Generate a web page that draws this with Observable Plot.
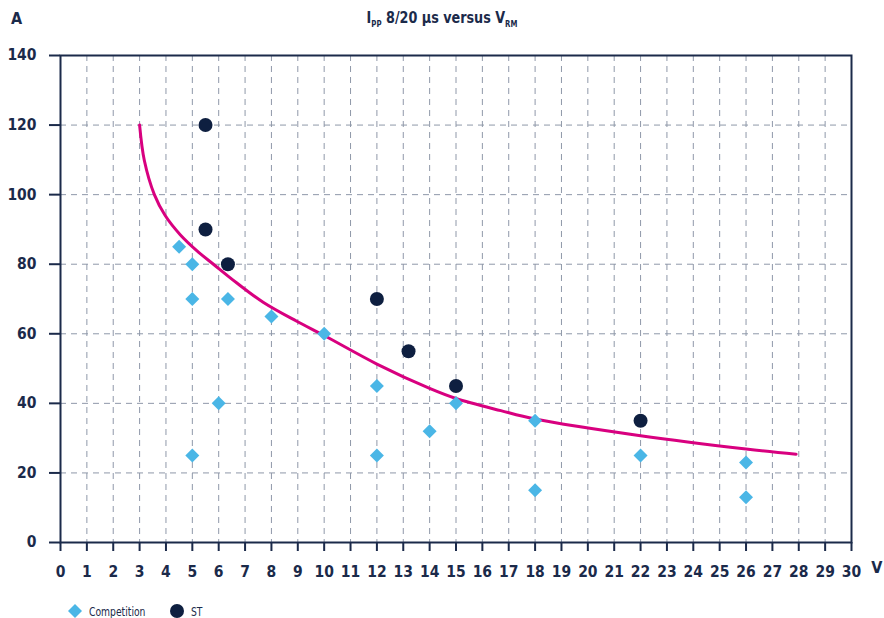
<!DOCTYPE html>
<html>
<head>
<meta charset="utf-8">
<script src="https://cdn.jsdelivr.net/npm/d3@7"></script>
<script src="https://cdn.jsdelivr.net/npm/@observablehq/plot@0.6"></script>
<style>
  body { margin: 0; background: #fff; }
  #wrap { position: relative; width: 884px; height: 618px; color: #1b2a4a; font-family: "DejaVu Sans Condensed", "DejaVu Sans", sans-serif; }
  #header { position: relative; height: 36px; }
  #unitA { position: absolute; left: 11px; top: 9px; font-size: 16px; font-weight: bold; }
  #title { position: absolute; left: 0; right: 0; top: 8px; text-align: center; font-size: 16.5px; font-weight: bold; transform: scaleX(0.86); transform-origin: 442px 50%; }
  #title sub { font-size: 9px; vertical-align: -4px; line-height: 0; }
  #chart svg { display: block; }
  #legend { position: relative; height: 22px; font-size: 12.5px; }
  .item { position: absolute; top: 7px; display: flex; align-items: center; gap: 6px; }
  .item span { display: inline-block; transform: scaleX(0.82); transform-origin: 0 50%; }
</style>
</head>
<body>
<div id="wrap">
  <div id="header">
    <span id="unitA">A</span>
    <div id="title">I<sub>PP</sub> 8/20 µs versus V<sub>RM</sub></div>
  </div>
  <div id="chart"></div>
  <div id="legend">
    <div class="item" style="left:67px"><svg width="16" height="16"><path d="M8 1 L15 8 L8 15 L1 8 Z" fill="#4ab6e6"/></svg><span>Competition</span></div>
    <div class="item" style="left:169px"><svg width="16" height="16"><circle cx="8" cy="8" r="7" fill="#0e1f40"/></svg><span>ST</span></div>
  </div>
</div>
<script>
// Tick values
const xTicks = d3.range(0, 31, 1);
const yTicks = [0, 20, 40, 60, 80, 100, 120, 140];

// Competition devices (V_RM in V, I_PP in A)
const compV = [4.5, 5, 5, 5, 6, 6.35, 8, 10, 12, 12, 14, 15, 18, 18, 22, 26, 26];
const compI = [85, 80, 70, 25, 40, 70, 65, 60, 45, 25, 32, 40, 35, 15, 25, 23, 13];

// ST devices
const stV = [5.5, 5.5, 6.35, 12, 13.2, 15, 22];
const stI = [120, 90, 80, 70, 55, 45, 35];

// Trend curve
const curveV = [3, 3.18, 3.56, 3.97, 4.54, 5.23, 5.8, 6.69, 7.7, 8.96, 10, 12, 14, 15, 16.7, 18, 22, 26, 27.9];
const curveI = [120, 109.8, 100, 94, 88.5, 83.5, 80, 74.6, 69, 63.6, 59.5, 51.3, 44.3, 41.4, 37.9, 35.5, 30.7, 26.9, 25.4];

const comp = compV.map((v, i) => ({v, i: compI[i]}));
const st = stV.map((v, i) => ({v, i: stI[i]}));
const curve = curveV.map((v, i) => ({v, i: curveI[i]}));

const navy = "#1b2a4a";
const gridColor = "#8f98a9";
const font = "'DejaVu Sans Condensed', 'DejaVu Sans', sans-serif";

const chart = Plot.plot({
  width: 884,
  height: 560,
  marginTop: 19,
  marginBottom: 54,
  marginLeft: 60,
  marginRight: 33,
  x: {domain: [0, 30]},
  y: {domain: [0, 140]},
  style: {fontFamily: font, fontSize: "15.5px", fontWeight: "bold", color: navy, background: "white"},
  marks: [
    Plot.gridX(xTicks, {stroke: gridColor, strokeOpacity: 1, strokeWidth: 1, strokeDasharray: "6,5"}),
    Plot.gridY(yTicks, {stroke: gridColor, strokeOpacity: 1, strokeWidth: 1, strokeDasharray: "6,5"}),
    Plot.frame({stroke: navy, strokeWidth: 2}),
    Plot.axisX(xTicks, {tickSize: 9, tickPadding: 14, strokeWidth: 2, label: null}),
    Plot.axisY(yTicks, {tickSize: 11, tickPadding: 13, strokeWidth: 2, label: null}),
    Plot.line(curve, {x: "v", y: "i", stroke: "#d8007f", strokeWidth: 3, curve: "catmull-rom"}),
    Plot.dot(comp, {x: "v", y: "i", symbol: "diamond2", r: 6.3, fill: "#4ab6e6"}),
    Plot.dot(st, {x: "v", y: "i", r: 7, fill: "#0e1f40"}),
    Plot.text(["V"], {text: d => d, frameAnchor: "bottom-right", dx: 31, dy: 30, fontSize: 16, fill: navy})
  ]
});
document.getElementById("chart").appendChild(chart);
</script>
</body>
</html>
